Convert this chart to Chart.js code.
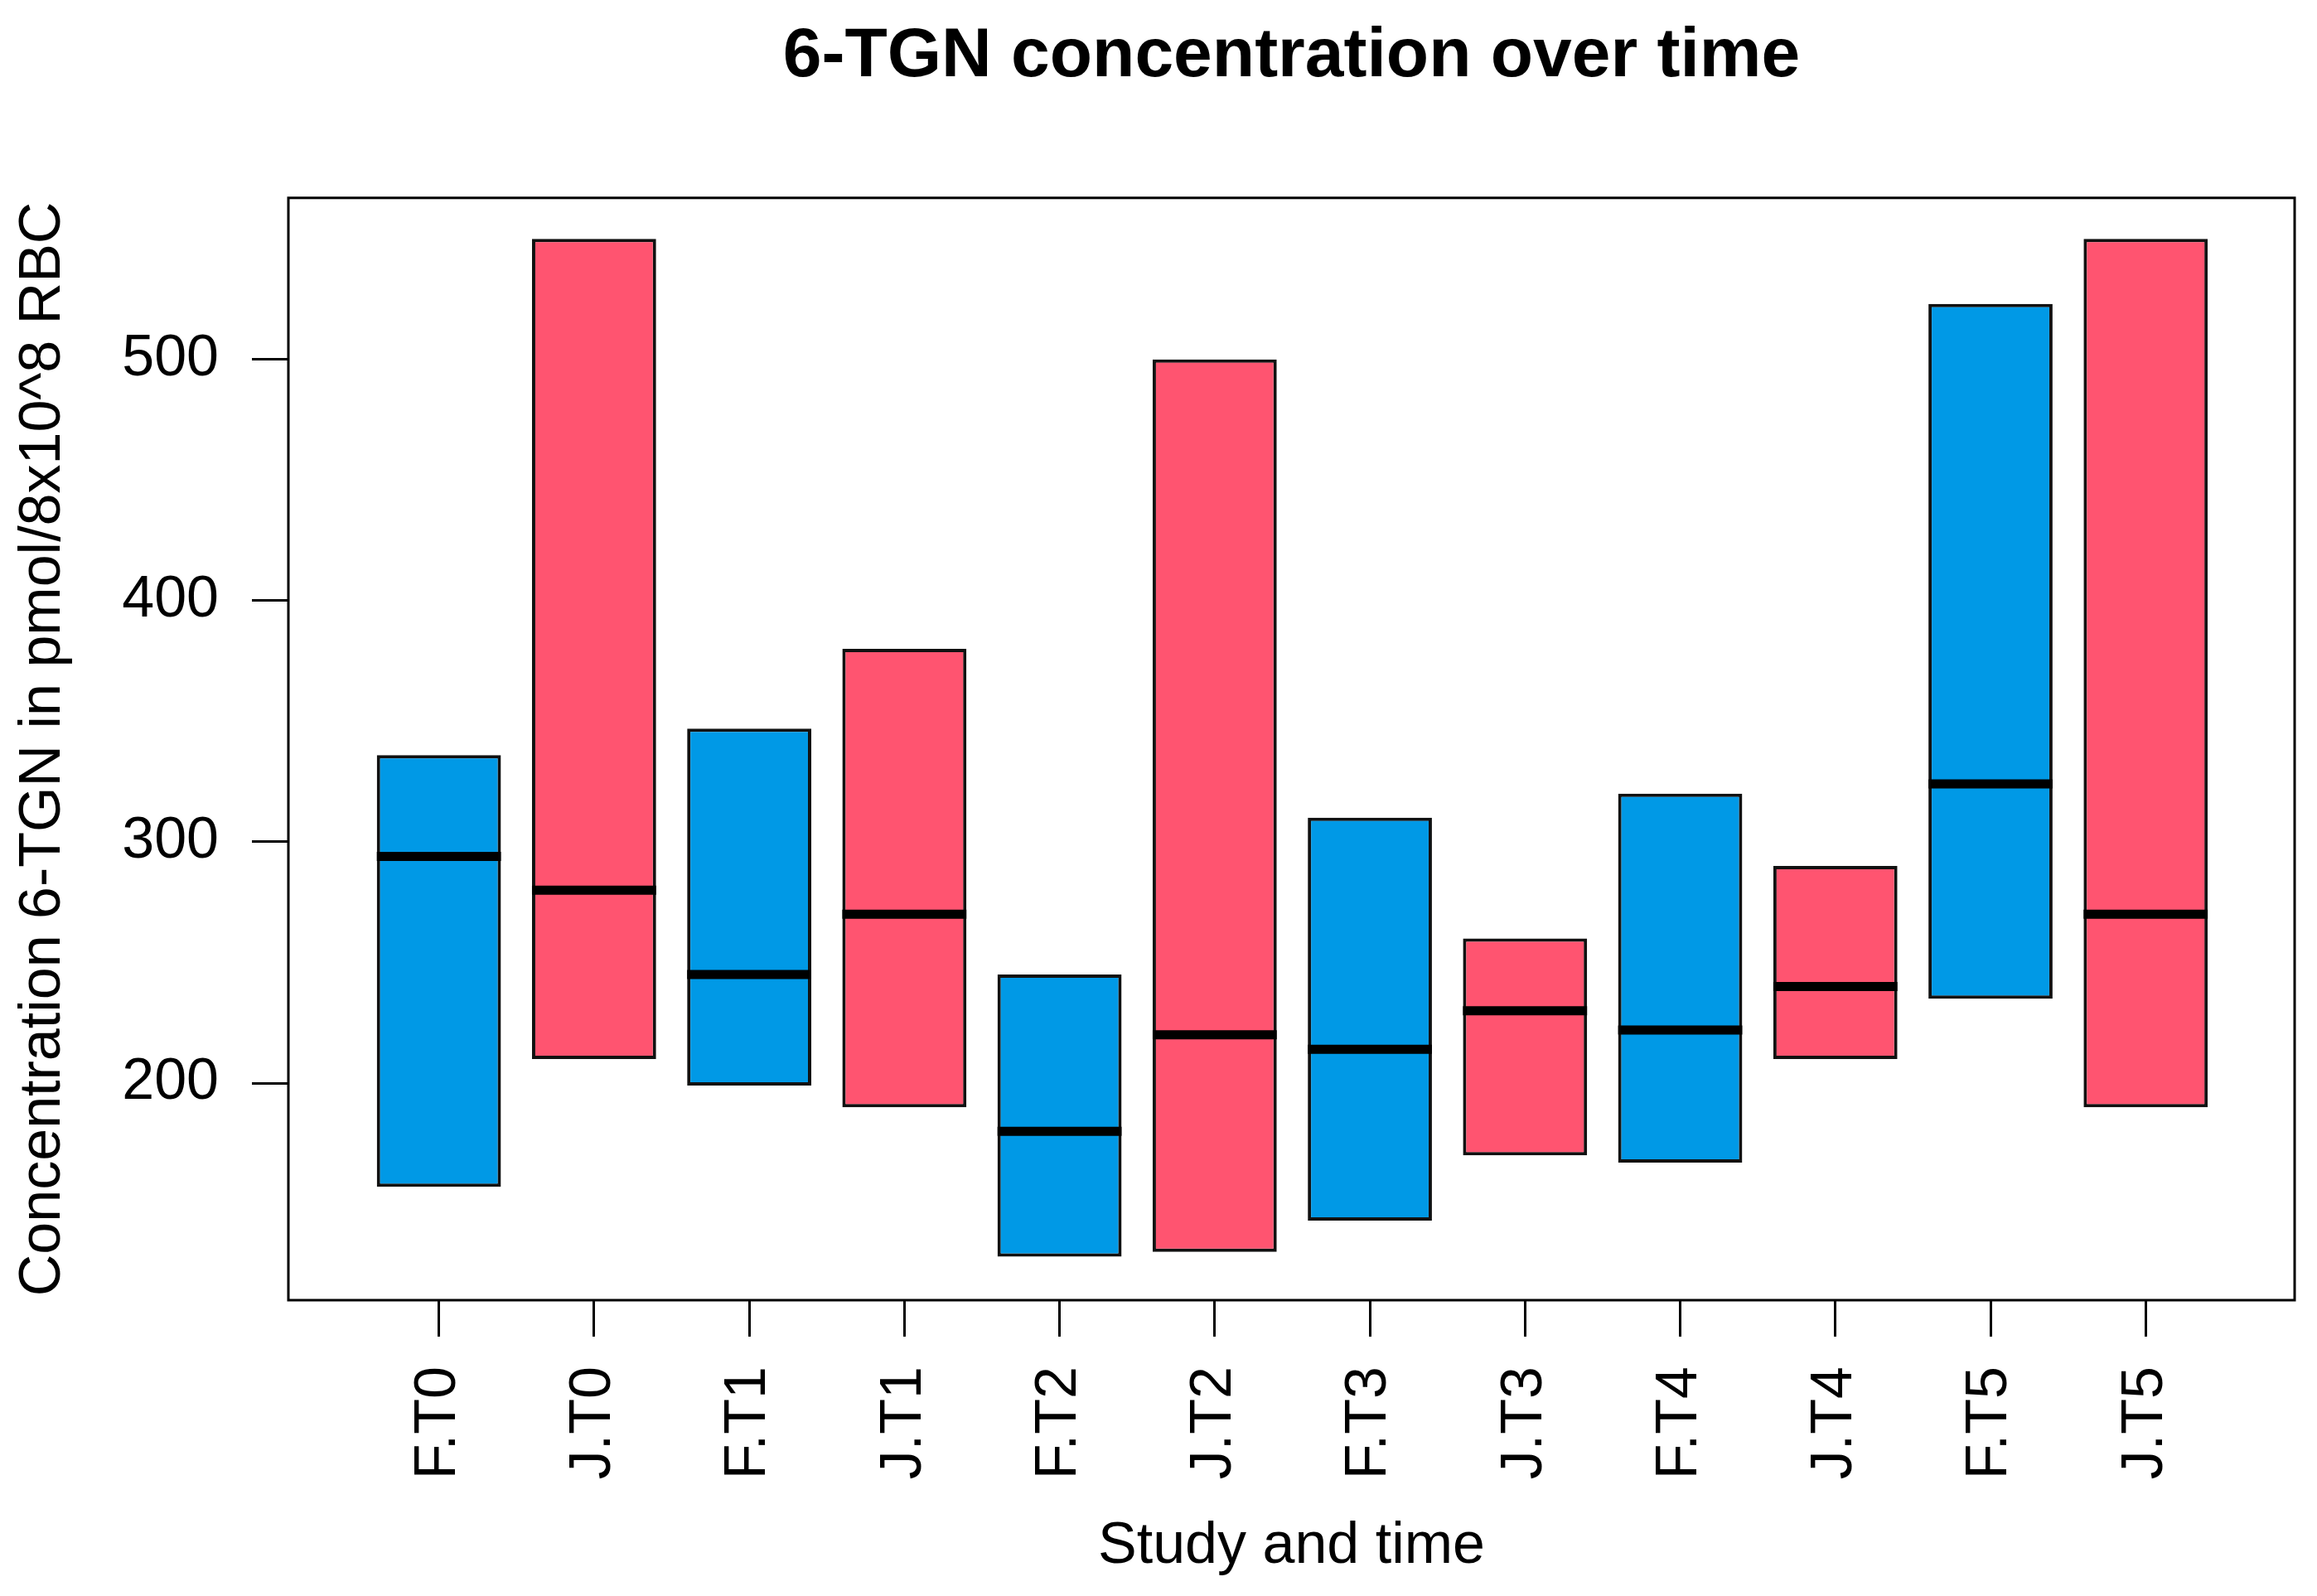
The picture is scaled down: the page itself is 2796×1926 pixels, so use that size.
<!DOCTYPE html>
<html>
<head>
<meta charset="utf-8">
<script src="https://cdn.jsdelivr.net/npm/chart.js@4"></script>
<style>
html,body{margin:0;padding:0;background:#fff;}
#wrap{width:2796px;height:1926px;position:relative;}
</style>
</head>
<body>
<div id="wrap"><canvas id="c"></canvas></div>
<script>
const categories = ['F.T0','J.T0','F.T1','J.T1','F.T2','J.T2','F.T3','J.T3','F.T4','J.T4','F.T5','J.T5'];
const boxLow    = [157, 210, 199, 190, 128, 130, 143, 170, 167, 210, 235, 190];
const boxHigh   = [336, 550, 347, 380, 245, 500, 310, 260, 320, 290, 523, 550];
const medians   = [294, 280, 245, 270, 180, 220, 214, 230, 222, 240, 324, 270];
const yTicks    = [200, 300, 400, 500];

const colorF = '#0099E6';
const colorJ = '#FF5470';
const FONT = "'Liberation Sans', Arial, sans-serif";

const positions = categories.map((_, i) => i);
const boxData = positions.map(i => ({x: i, y: [boxLow[i], boxHigh[i]]}));
const medData = positions.map(i => ({x: i, y: medians[i]}));
const fills = categories.map(c => c.startsWith('F') ? colorF : colorJ);

const boxFrame = {
  id: 'boxFrame',
  afterDraw(chart) {
    const {ctx, chartArea: a} = chart;
    ctx.save();
    ctx.strokeStyle = '#000';
    ctx.lineWidth = 3;
    ctx.strokeRect(a.left, a.top, a.right - a.left, a.bottom - a.top);
    ctx.restore();
  }
};

new Chart(document.getElementById('c'), {
  data: {
    datasets: [
      {
        type: 'bar',
        data: boxData,
        backgroundColor: fills,
        borderColor: '#111',
        borderWidth: 4,
        borderSkipped: false,
        categoryPercentage: 0.8,
        barPercentage: 1.0,
        order: 2
      },
      {
        type: 'scatter',
        data: medData,
        pointStyle: 'line',
        borderColor: '#000',
        borderWidth: 11,
        radius: ctx => {
          const s = ctx.chart.scales.x;
          return Math.abs(s.getPixelForValue(1) - s.getPixelForValue(0)) * 0.4;
        },
        hoverRadius: 0,
        order: 1
      }
    ]
  },
  options: {
    responsive: true,
    maintainAspectRatio: false,
    devicePixelRatio: 1,
    animation: false,
    events: [],
    layout: {padding: {left: 0, right: 27, top: 0, bottom: 0}},
    plugins: {
      legend: {display: false},
      tooltip: {enabled: false},
      title: {
        display: true,
        fullSize: false,
        text: '6-TGN concentration over time',
        color: '#000',
        font: {family: FONT, size: 84, weight: 'bold', lineHeight: 1.2},
        padding: {top: 18, bottom: 120}
      }
    },
    scales: {
      x: {
        type: 'linear',
        offset: false,
        min: -0.97,
        max: 11.96,
        afterBuildTicks: s => { s.ticks = positions.map(v => ({value: v})); },
        afterFit: s => { s.height = 357; },
        ticks: {
          autoSkip: false,
          maxRotation: 90,
          minRotation: 90,
          padding: 36,
          color: '#000',
          font: {family: FONT, size: 70},
          callback: v => categories[v]
        },
        grid: {display: true, offset: false, drawOnChartArea: false, drawTicks: true, tickLength: 44, tickWidth: 3, tickColor: '#000'},
        border: {display: false},
        title: {
          display: true,
          text: 'Study and time',
          color: '#000',
          font: {family: FONT, size: 70, lineHeight: 1.2},
          padding: {top: 0, bottom: 17}
        }
      },
      y: {
        type: 'linear',
        min: 110,
        max: 567,
        afterBuildTicks: s => { s.ticks = yTicks.map(v => ({value: v})); },
        afterFit: s => { s.width = 348; },
        ticks: {
          padding: 40,
          color: '#000',
          font: {family: FONT, size: 70}
        },
        grid: {display: true, drawOnChartArea: false, drawTicks: true, tickLength: 44, tickWidth: 3, tickColor: '#000'},
        border: {display: false},
        title: {
          display: true,
          text: 'Concentration 6-TGN in pmol/8x10^8 RBC',
          color: '#000',
          font: {family: FONT, size: 70, lineHeight: 1.2},
          padding: {top: 11, bottom: 0}
        }
      }
    }
  },
  plugins: [boxFrame]
});
</script>
</body>
</html>
